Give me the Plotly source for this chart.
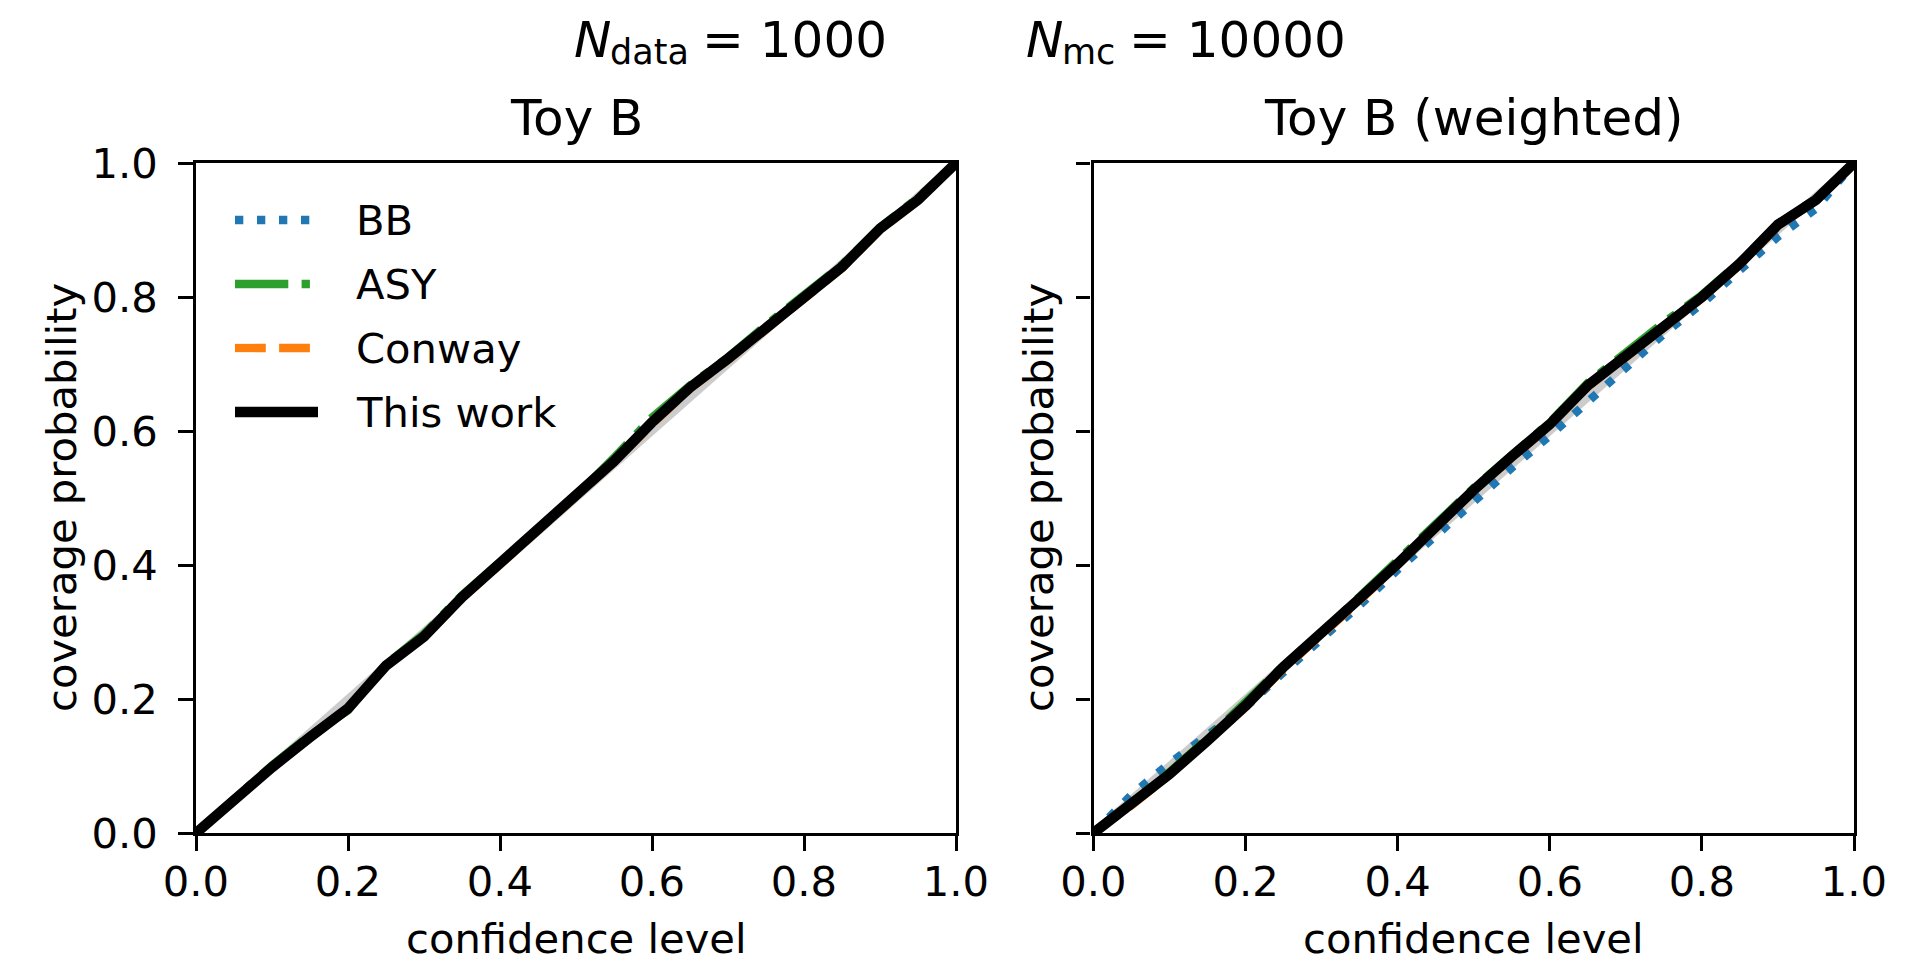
import plotly.graph_objects as go

# Confidence levels at which the coverage was evaluated
conf_level = [0.0, 0.05, 0.1, 0.15, 0.2, 0.25, 0.3, 0.35, 0.4, 0.45, 0.5,
              0.55, 0.6, 0.65, 0.7, 0.75, 0.8, 0.85, 0.9, 0.95, 1.0]

# Toy B
toyb_bb = [0.0, 0.05, 0.099, 0.144, 0.187, 0.25, 0.294, 0.351, 0.401, 0.45, 0.5,
           0.554, 0.611, 0.664, 0.707, 0.754, 0.799, 0.844, 0.901, 0.945, 1.0]
toyb_asy = [0.0, 0.052, 0.101, 0.146, 0.183, 0.252, 0.297, 0.355, 0.404, 0.452, 0.503,
            0.56, 0.62, 0.668, 0.71, 0.758, 0.803, 0.848, 0.904, 0.948, 1.0]
toyb_conway = [0.0, 0.049, 0.097, 0.142, 0.186, 0.249, 0.292, 0.35, 0.4, 0.449, 0.499,
               0.553, 0.61, 0.663, 0.706, 0.753, 0.798, 0.843, 0.9, 0.944, 1.0]
toyb_this_work = [0.0, 0.05, 0.098, 0.143, 0.186, 0.25, 0.293, 0.352, 0.402, 0.45, 0.5,
                  0.555, 0.613, 0.665, 0.708, 0.755, 0.8, 0.845, 0.902, 0.945, 1.0]

# Toy B (weighted)
toybw_bb = [0.0, 0.057, 0.104, 0.145, 0.188, 0.24, 0.289, 0.34, 0.393, 0.445, 0.495,
            0.545, 0.593, 0.645, 0.697, 0.745, 0.79, 0.838, 0.89, 0.932, 1.0]
toybw_asy = [0.0, 0.044, 0.091, 0.141, 0.195, 0.25, 0.299, 0.353, 0.406, 0.462, 0.515,
             0.564, 0.613, 0.672, 0.717, 0.762, 0.803, 0.852, 0.909, 0.947, 1.0]
toybw_conway = [0.0, 0.041, 0.087, 0.136, 0.188, 0.245, 0.294, 0.347, 0.4, 0.456, 0.51,
                0.56, 0.608, 0.666, 0.71, 0.755, 0.798, 0.848, 0.906, 0.944, 1.0]
toybw_this_work = [0.0, 0.042, 0.088, 0.138, 0.19, 0.248, 0.297, 0.35, 0.402, 0.458, 0.512,
                   0.562, 0.61, 0.668, 0.712, 0.757, 0.8, 0.85, 0.908, 0.945, 1.0]

# Perfect-coverage reference line
diag = [0.0, 1.0]

tick_vals = [0.0, 0.2, 0.4, 0.6, 0.8, 1.0]
tick_text = ["0.0", "0.2", "0.4", "0.6", "0.8", "1.0"]

W, H = 1920, 966
FONT = "DejaVu Sans"
FS = 41.7       # 10 pt at 300 dpi
FS_TITLE = 50   # 12 pt at 300 dpi
FS_SUB = 35     # subscript size

styles = {
    "BB": dict(color="#1f77b4", width=8.3, dash="8.3px,13.7px"),
    "ASY": dict(color="#2ca02c", width=8.3, dash="53.3px,13.3px,8.3px,13.3px"),
    "Conway": dict(color="#ff7f0e", width=8.3, dash="30.8px,13.3px"),
    "This work": dict(color="black", width=10.4, dash="solid"),
}

panels = [
    ("x", "y", [toyb_bb, toyb_asy, toyb_conway, toyb_this_work]),
    ("x2", "y2", [toybw_bb, toybw_asy, toybw_conway, toybw_this_work]),
]

fig = go.Figure()
for xa, ya, series in panels:
    fig.add_trace(go.Scatter(x=diag, y=diag, mode="lines", xaxis=xa, yaxis=ya,
                             line=dict(color="#cccccc", width=8), showlegend=False,
                             hoverinfo="skip"))
    for name, ys in zip(styles, series):
        fig.add_trace(go.Scatter(x=conf_level, y=ys, mode="lines", name=name,
                                 xaxis=xa, yaxis=ya, line=styles[name],
                                 showlegend=False))

# axes geometry in pixels
ax_left = [(196, 956), (1093.5, 1854)]
ax_top, ax_bot = 163, 833


def px(x):
    return x / W


def py(y):
    return 1 - y / H


axis_common = dict(
    range=[0, 1], showgrid=False, zeroline=False, showline=True, mirror=True,
    linecolor="black", linewidth=3.3, ticks="outside", ticklen=14.6,
    tickwidth=3.3, tickcolor="black", tickvals=tick_vals, ticktext=tick_text,
    tickfont=dict(family=FONT, size=FS, color="black"), fixedrange=True,
    automargin=False,
)

fig.update_layout(
    template="none",
    width=W, height=H, margin=dict(l=0, r=0, t=0, b=0, pad=0),
    paper_bgcolor="white", plot_bgcolor="white", showlegend=False,
    xaxis=dict(domain=[px(ax_left[0][0]), px(ax_left[0][1])], anchor="y",
               ticklabelstandoff=-5, **axis_common),
    yaxis=dict(domain=[py(ax_bot), py(ax_top)], anchor="x",
               ticklabelstandoff=12, **axis_common),
    xaxis2=dict(domain=[px(ax_left[1][0]), px(ax_left[1][1])], anchor="y2",
                ticklabelstandoff=-5, **axis_common),
    yaxis2=dict(domain=[py(ax_bot), py(ax_top)], anchor="x2", showticklabels=False,
                **axis_common),
)

annotations = []


def text(x, y, s, size=FS, xanchor="center", yanchor="middle", angle=0):
    annotations.append(dict(x=px(x), y=py(y), xref="paper", yref="paper", text=s,
                            showarrow=False, xanchor=xanchor, yanchor=yanchor,
                            textangle=angle,
                            font=dict(family=FONT, size=size, color="black")))


# panel titles
text((196 + 956) / 2, 118, "Toy B", size=FS_TITLE)
text((1093.5 + 1854) / 2, 118, "Toy B (weighted)", size=FS_TITLE)

# figure title: N_data = 1000, N_mc = 10000 (symbol, subscript, value)
text(572, 40, "<i>N</i>", size=FS_TITLE, xanchor="left")
text(608, 52, "data", size=FS_SUB, xanchor="left")
text(889, 40, "= 1000", size=FS_TITLE, xanchor="right")
text(1024, 40, "<i>N</i>", size=FS_TITLE, xanchor="left")
text(1060, 52, "mc", size=FS_SUB, xanchor="left")
text(1348, 40, "= 10000", size=FS_TITLE, xanchor="right")

# axis labels
for (l, r) in ax_left:
    text((l + r) / 2, 938, "confidence level")
text(61, (ax_top + ax_bot) / 2, "coverage probability", angle=-90)
text(1038, (ax_top + ax_bot) / 2, "coverage probability", angle=-90)

# legend (drawn inside the left panel)
leg_rows = [220, 284, 348, 412]
shapes = []
for name, yrow in zip(styles, leg_rows):
    st = styles[name]
    shapes.append(dict(type="line", xref="paper", yref="paper",
                       x0=px(235), x1=px(318), y0=py(yrow), y1=py(yrow),
                       line=dict(color=st["color"], width=st["width"], dash=st["dash"])))
    text(354, yrow, name, xanchor="left")

fig.update_layout(annotations=annotations, shapes=shapes)
fig.write_html("out.html")
